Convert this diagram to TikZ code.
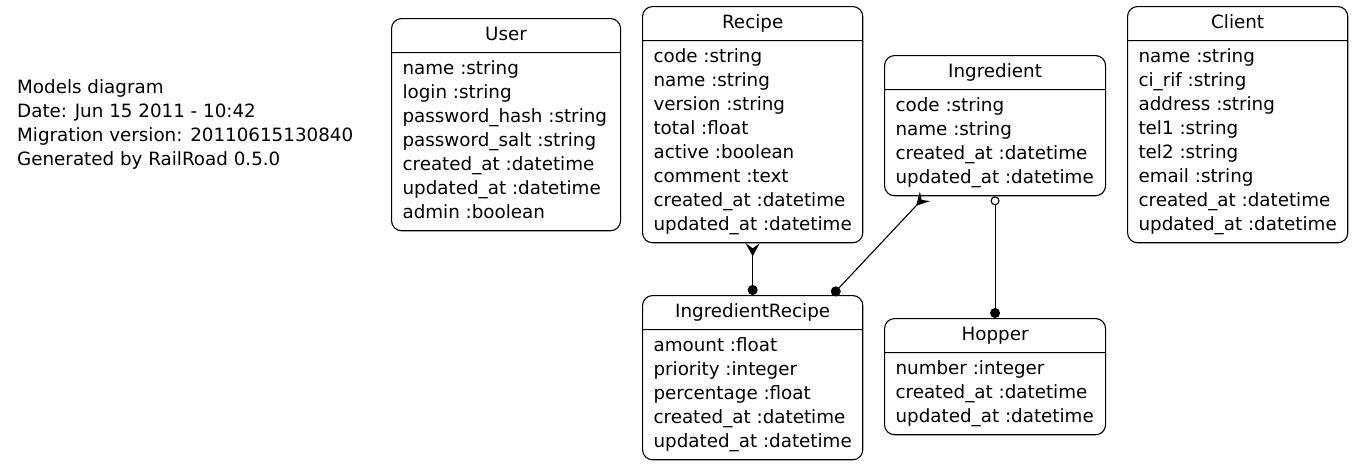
\documentclass[tikz,border=0pt]{standalone}
\usepackage{fontspec}
\setmainfont{DejaVu Sans}
\usetikzlibrary{arrows.meta,positioning,shapes.multipart,calc}

\tikzset{
  model/.style={draw, line width=1.1pt, rectangle split, rectangle split parts=2, rounded corners=10pt,
    anchor=north west, inner xsep=11pt, inner ysep=4.5pt, minimum width=#1,
    rectangle split part align={center,left}, align=left},
  rel/.style={line width=1.1pt},
  crowfoot/.tip={Stealth[reversed, length=13pt, width=14pt, inset=5pt]},
  fulldot/.tip={Circle[length=10pt]},
  opendot/.tip={Circle[open, length=9pt]},
}

\begin{document}
\begin{tikzpicture}[x=1pt, y=-1pt, font=\fontsize{18.3}{24}\selectfont]
    \useasboundingbox (0,0) rectangle (1352,467);
    \node[anchor=west, align=left, inner sep=0pt] (info) at (17,124)
      {Models diagram\\Date: Jun 15 2011 - 10:42\\Migration version: 20110615130840\\Generated by RailRoad 0.5.0};
    % Models
    \node[model=229pt] (user) at (391,18) {\strut User\nodepart{two}\strut name :string\\login :string\\password\_hash :string\\password\_salt :string\\created\_at :datetime\\updated\_at :datetime\\admin :boolean\strut};
    \node[model=220pt] (recipe) at (642,6) {\strut Recipe\nodepart{two}\strut code :string\\name :string\\version :string\\total :float\\active :boolean\\comment :text\\created\_at :datetime\\updated\_at :datetime\strut};
    \node[model=221pt] (ingredient) at (884,55) {\strut Ingredient\nodepart{two}\strut code :string\\name :string\\created\_at :datetime\\updated\_at :datetime\strut};
    \node[model=220pt] (client) at (1127,6) {\strut Client\nodepart{two}\strut name :string\\ci\_rif :string\\address :string\\tel1 :string\\tel2 :string\\email :string\\created\_at :datetime\\updated\_at :datetime\strut};
    \node[model=220pt] (ir) at (642,295) {\strut IngredientRecipe\nodepart{two}\strut amount :float\\priority :integer\\percentage :float\\created\_at :datetime\\updated\_at :datetime\strut};
    \node[model=221pt] (hopper) at (884,318) {\strut Hopper\nodepart{two}\strut number :integer\\created\_at :datetime\\updated\_at :datetime\strut};
    % Associations
    \draw[rel, crowfoot-fulldot] (recipe.south) -- (ir.north);
    \draw[rel, crowfoot-fulldot] ($(ingredient.south west)+(41,0)$) -- ($(ir.north east)+(-31,0)$);
    \draw[rel, opendot-fulldot] (ingredient.south) -- (hopper.north);
\end{tikzpicture}
\end{document}
